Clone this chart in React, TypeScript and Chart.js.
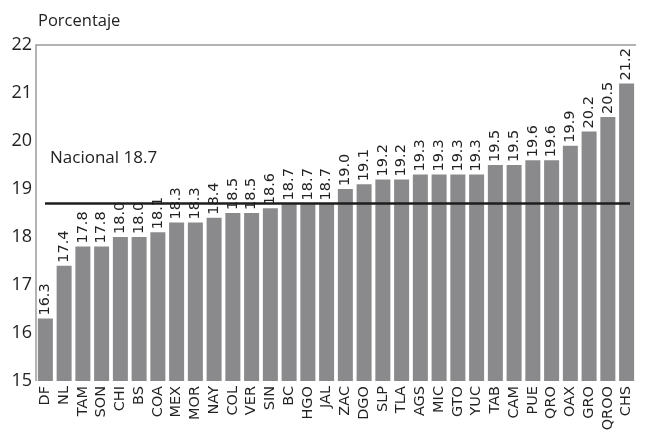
import React, { useEffect, useRef } from "react";
import { Chart, registerables } from "chart.js";

Chart.register(...registerables);

const categories = ["DF","NL","TAM","SON","CHI","BS","COA","MEX","MOR","NAY","COL","VER","SIN","BC","HGO","JAL","ZAC","DGO","SLP","TLA","AGS","MIC","GTO","YUC","TAB","CAM","PUE","QRO","OAX","GRO","QROO","CHS"];
const values = [16.3,17.4,17.8,17.8,18.0,18.0,18.1,18.3,18.3,18.4,18.5,18.5,18.6,18.7,18.7,18.7,19.0,19.1,19.2,19.2,19.3,19.3,19.3,19.3,19.5,19.5,19.6,19.6,19.9,20.2,20.5,21.2];
const valueLabels = ["16.3","17.4","17.8","17.8","18.0","18.0","18.1","18.3","18.3","18.4","18.5","18.5","18.6","18.7","18.7","18.7","19.0","19.1","19.2","19.2","19.3","19.3","19.3","19.3","19.5","19.5","19.6","19.6","19.9","20.2","20.5","21.2"];
const nationalValue = 18.7;
const nationalLabel = "Nacional 18.7";
const axisTitle = "Porcentaje";
const yMin = 15;
const yMax = 22;

const overlay = {
  id: "overlay",
  afterDatasetsDraw(chart: any) {
    const ctx = chart.ctx;
    const area = chart.chartArea;
    const y = chart.scales.y;
    const meta = chart.getDatasetMeta(0);
    ctx.save();
    // value labels
    ctx.fillStyle = "#222";
    ctx.font = "14.5px 'DejaVu Sans'";
    ctx.textAlign = "left";
    ctx.textBaseline = "middle";
    meta.data.forEach((bar: any, i: number) => {
      ctx.save();
      ctx.translate(bar.x, bar.y - 3);
      ctx.rotate(-Math.PI / 2);
      ctx.fillText(valueLabels[i], 0, 0);
      ctx.restore();
    });
    // national line
    const ny = y.getPixelForValue(nationalValue);
    ctx.strokeStyle = "#1e1e1e";
    ctx.lineWidth = 2.5;
    ctx.beginPath();
    ctx.moveTo(area.left + 9, ny);
    ctx.lineTo(area.right - 6, ny);
    ctx.stroke();
    ctx.font = "17px 'Open Sans'";
    ctx.fillStyle = "#222";
    ctx.textBaseline = "middle";
    ctx.fillText(nationalLabel, area.left + 14, y.getPixelForValue(19.65));
    // axis title
    ctx.font = "16.5px 'Open Sans'";
    ctx.textBaseline = "middle";
    ctx.fillText(axisTitle, area.left + 2, 21);
    // frame
    ctx.strokeStyle = "#9a9a9a";
    ctx.lineWidth = 1.5;
    ctx.beginPath();
    ctx.moveTo(area.right, area.top);
    ctx.lineTo(area.left, area.top);
    ctx.lineTo(area.left, area.bottom);
    ctx.stroke();
    ctx.restore();
  },
};

export default function App() {
  const ref = useRef<HTMLCanvasElement>(null);
  useEffect(() => {
    const chart = new Chart(ref.current!, {
      type: "bar",
      data: {
        labels: categories,
        datasets: [
          {
            data: values,
            backgroundColor: "#8a8a8c",
            barPercentage: 0.8,
            categoryPercentage: 1,
          },
        ],
      },
      options: {
        responsive: false,
        animation: false,
        layout: { padding: { top: 45, right: 0, left: 0, bottom: 0 } },
        plugins: { legend: { display: false }, tooltip: { enabled: false } },
        scales: {
          x: {
            grid: { display: false, drawTicks: false },
            border: { display: false },
            ticks: {
              color: "#222",
              font: { family: "DejaVu Sans", size: 14.5 },
              minRotation: 90,
              maxRotation: 90,
              autoSkip: false,
              padding: 5,
            },
            afterFit(scale: any) {
              scale.height = 49;
            },
          },
          y: {
            min: yMin,
            max: yMax,
            grid: { display: false, drawTicks: false },
            border: { display: false },
            ticks: {
              stepSize: 1,
              color: "#222",
              font: { family: "Open Sans", size: 18 },
              padding: 4,
            },
            afterFit(scale: any) {
              scale.width = 36;
            },
          },
        },
      },
      plugins: [overlay],
    });
    return () => chart.destroy();
  }, []);
  return (
    <div style={{ position: "fixed", left: 0, top: 0, width: 649, height: 430, background: "#fff" }}>
      <canvas ref={ref} width={649} height={430} />
    </div>
  );
}
